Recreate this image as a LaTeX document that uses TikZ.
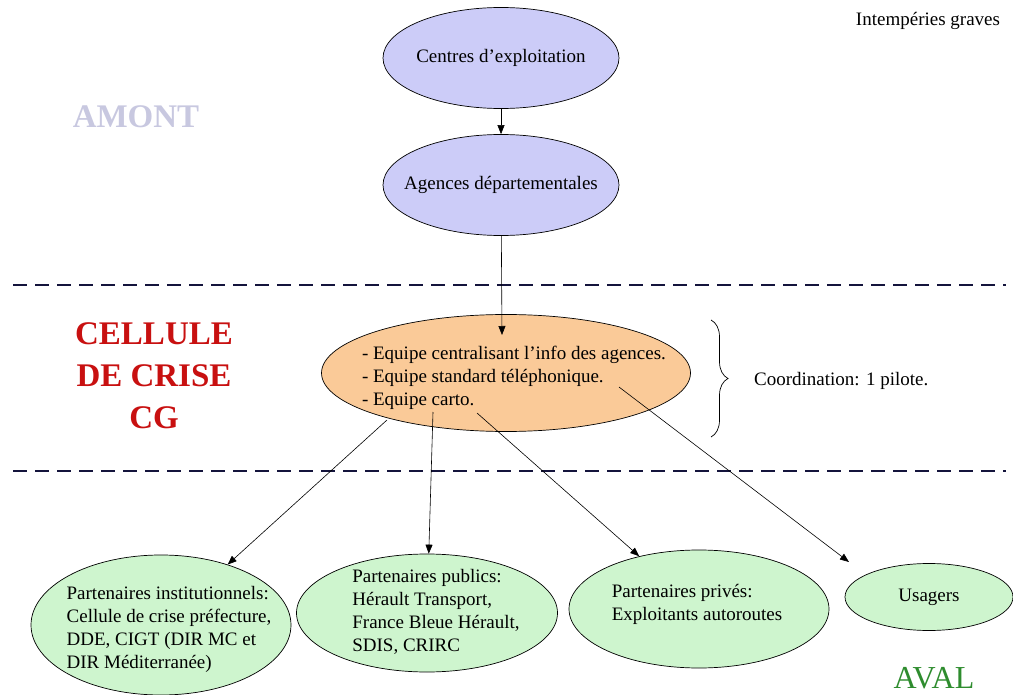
\documentclass[tikz,border=0pt]{standalone}
\usepackage{fontspec}
\setmainfont{Liberation Serif}
\usetikzlibrary{shapes.geometric,arrows.meta,decorations.pathreplacing}
\definecolor{bleu}{RGB}{204,204,248}
\definecolor{orange}{RGB}{250,202,152}
\definecolor{vert}{RGB}{206,245,206}
\definecolor{marine}{RGB}{20,20,60}
\definecolor{rouge}{RGB}{200,16,16}
\definecolor{amont}{RGB}{200,200,224}
\definecolor{aval}{RGB}{46,140,46}

\begin{document}
\begin{tikzpicture}[x=1pt,y=-1pt,
  bulle/.style={ellipse,draw,line width=0.7pt,inner sep=0pt},
  texte/.style={align=left,inner sep=0pt,font=\fontsize{19}{23}\selectfont},
  titre/.style={align=center,inner sep=0pt,font=\fontsize{33}{42}\selectfont\bfseries},
  fleche/.style={-{Triangle[length=9pt,width=7pt]},line width=0.6pt},
  separ/.style={line width=2.8pt,draw=marine,dash pattern=on 14pt off 8pt}]
  \useasboundingbox (0,0) rectangle (1013,695);
  \node[texte] (grave) at (928,21) {Intempéries graves};
  \node[titre,text=amont] (amont) at (136,117) {AMONT};
  \node[titre,text=rouge] (crise) at (154,376) {CELLULE\\DE CRISE\\CG};
  \node[titre,font=\fontsize{32}{38}\selectfont,text=aval] (aval) at (934,678) {AVAL};
  \node[bulle,fill=bleu,minimum width=236pt,minimum height=101pt] (centres) at (501,58) {};
  \node[texte] (centrestxt) at (centres) {Centres d'exploitation};
  \node[bulle,fill=bleu,minimum width=236pt,minimum height=101pt] (agences) at (501,185) {};
  \node[texte] (agencestxt) at (agences) {Agences départementales};
  \node[bulle,fill=orange,minimum width=369pt,minimum height=117pt] (cellule) at (506,373) {};
  \node[texte] (celluletxt) at (514,378) {- Equipe centralisant l'info des agences.\\- Equipe standard téléphonique.\\- Equipe carto.};
  \node[bulle,fill=vert,minimum width=260pt,minimum height=140pt] (inst) at (161,625) {};
  \node[texte] (insttxt) at (169,629) {Partenaires institutionnels:\\Cellule de crise préfecture,\\DDE, CIGT (DIR MC et\\DIR Méditerranée)};
  \node[bulle,fill=vert,minimum width=261pt,minimum height=118pt] (pub) at (427,613) {};
  \node[texte] (pubtxt) at (436,612) {Partenaires publics:\\Hérault Transport,\\France Bleue Hérault,\\SDIS, CRIRC};
  \node[bulle,fill=vert,minimum width=260pt,minimum height=118pt] (priv) at (699,609) {};
  \node[texte] (privtxt) at (697,604) {Partenaires privés:\\Exploitants autoroutes};
  \node[bulle,fill=vert,minimum width=168pt,minimum height=67pt] (usagers) at (929,597) {};
  \node[texte] (usagerstxt) at (usagers) {Usagers};
  \node[texte,anchor=west] (coord) at (754,381) {Coordination: 1 pilote.};
  \coordinate (g1) at (13,285);
  \coordinate (d1) at (1006,285);
  \coordinate (g2) at (13,471);
  \coordinate (d2) at (1006,471);
  \coordinate (critop) at (502,335);
  \coordinate (s1) at (387,420);
  \coordinate (s2) at (433,412);
  \coordinate (s3) at (477,413);
  \coordinate (s4) at (619,387);
  \coordinate (u) at (849,562);
  \coordinate (bh) at (711,320);
  \coordinate (bb) at (711,437);
  \draw[separ] (g1) -- (d1);
  \draw[separ] (g2) -- (d2);
  \draw[fleche] (centres) -- (agences);
  \draw[fleche] (agences) -- (critop);
  \draw[fleche] (s1) -- (inst);
  \draw[fleche] (s2) -- (pub);
  \draw[fleche] (s3) -- (priv);
  \draw[fleche] (s4) -- (u);
  \draw[line width=0.7pt,decorate,decoration={brace,amplitude=17pt}] (bh) -- (bb);
\end{tikzpicture}
\end{document}
